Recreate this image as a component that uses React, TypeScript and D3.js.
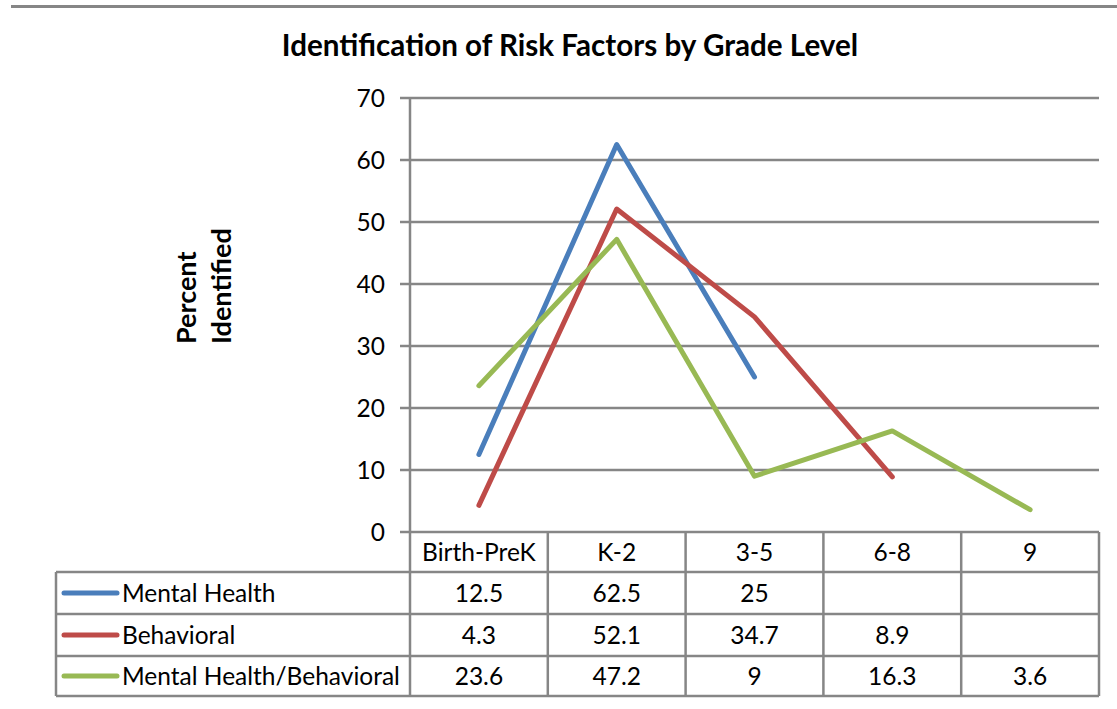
import React, { useEffect, useRef } from "react";
import * as d3 from "d3";

const grades = ["Birth-PreK", "K-2", "3-5", "6-8", "9"];
const seriesNames = ["Mental Health", "Behavioral", "Mental Health/Behavioral"];
const mentalHealth = [12.5, 62.5, 25, null, null];
const behavioral = [4.3, 52.1, 34.7, 8.9, null];
const mentalBehavioral = [23.6, 47.2, 9, 16.3, 3.6];
const seriesColors = ["#4A7EBB", "#BE4B48", "#98B954"];
const yTicks = [0, 10, 20, 30, 40, 50, 60, 70];

const W = 1117;
const H = 709;

export default function App() {
  const ref = useRef<SVGSVGElement>(null);

  useEffect(() => {
    const svg = d3.select(ref.current);
    svg.selectAll("*").remove();

    const font = "Lato, 'Open Sans', sans-serif";
    const fs = 24.5;
    const grid = "#868686";
    const left = 410;
    const right = 1099;
    const top = 98;
    const bottom = 532;
    const rowEdges = [532, 572, 614, 656, 696];
    const tableLeft = 56;

    const x = d3.scaleBand<string>().domain(grades).range([left, right]);
    const y = d3.scaleLinear().domain([0, 70]).range([bottom, top]);

    // top rule
    svg.append("line")
      .attr("x1", 11).attr("x2", W).attr("y1", 6.5).attr("y2", 6.5)
      .attr("stroke", grid).attr("stroke-width", 3);

    svg.append("text")
      .attr("x", 570).attr("y", 56)
      .attr("text-anchor", "middle")
      .attr("font-family", font).attr("font-weight", "bold").attr("font-size", 29.6)
      .text("Identification of Risk Factors by Grade Level");

    // y axis title
    const yt = svg.append("text")
      .attr("transform", "translate(196,344) rotate(-90)")
      .attr("text-anchor", "start")
      .attr("font-family", font).attr("font-weight", "bold").attr("font-size", 27);
    yt.append("tspan").attr("x", 0).attr("y", 0).text("Percent");
    yt.append("tspan").attr("x", 0).attr("y", 35).text("Identified");

    // gridlines + ticks
    yTicks.forEach(t => {
      svg.append("line")
        .attr("x1", 400).attr("x2", t === 0 ? left : right)
        .attr("y1", y(t)).attr("y2", y(t))
        .attr("stroke", grid).attr("stroke-width", 2.5);
      svg.append("text")
        .attr("x", 385).attr("y", y(t) + 8.5)
        .attr("text-anchor", "end")
        .attr("font-family", font).attr("font-size", fs)
        .text(t);
    });

    // table grid
    const g = svg.append("g").attr("stroke", grid).attr("stroke-width", 2.5).attr("fill", "none");
    g.append("line").attr("x1", left).attr("x2", right).attr("y1", rowEdges[0]).attr("y2", rowEdges[0]);
    g.append("line").attr("x1", left).attr("x2", left).attr("y1", top).attr("y2", rowEdges[4]);
    rowEdges.slice(1).forEach(r => {
      g.append("line").attr("x1", tableLeft).attr("x2", right).attr("y1", r).attr("y2", r);
    });
    g.append("line").attr("x1", tableLeft).attr("x2", tableLeft).attr("y1", rowEdges[1]).attr("y2", rowEdges[4]);
    grades.forEach(c => {
      const xe = (x(c) as number) + x.bandwidth();
      g.append("line").attr("x1", xe).attr("x2", xe).attr("y1", rowEdges[0]).attr("y2", rowEdges[4]);
    });

    // header labels
    grades.forEach(c => {
      svg.append("text")
        .attr("x", (x(c) as number) + x.bandwidth() / 2)
        .attr("y", (rowEdges[0] + rowEdges[1]) / 2 + 8.5)
        .attr("text-anchor", "middle")
        .attr("font-family", font).attr("font-size", fs)
        .text(c);
    });

    const allSeries = [mentalHealth, behavioral, mentalBehavioral];

    const line = d3.line<number | null>()
      .defined(d => d != null)
      .x((d, i) => (x(grades[i]) as number) + x.bandwidth() / 2)
      .y(d => y(d as number));

    allSeries.forEach((vals, si) => {
      const cy = (rowEdges[si + 1] + rowEdges[si + 2]) / 2;
      // legend key
      svg.append("line")
        .attr("x1", 64).attr("x2", 117).attr("y1", cy).attr("y2", cy)
        .attr("stroke", seriesColors[si]).attr("stroke-width", 5).attr("stroke-linecap", "round");
      svg.append("text")
        .attr("x", 122).attr("y", cy + 8.5)
        .attr("font-family", font).attr("font-size", fs)
        .text(seriesNames[si]);
      vals.forEach((v, i) => {
        if (v == null) return;
        svg.append("text")
          .attr("x", (x(grades[i]) as number) + x.bandwidth() / 2)
          .attr("y", cy + 8.5)
          .attr("text-anchor", "middle")
          .attr("font-family", font).attr("font-size", fs)
          .text(v);
      });
      svg.append("path")
        .datum(vals)
        .attr("d", line)
        .attr("fill", "none")
        .attr("stroke", seriesColors[si])
        .attr("stroke-width", 5)
        .attr("stroke-linejoin", "round")
        .attr("stroke-linecap", "round");
    });
  }, []);

  return (
    <div style={{ position: "absolute", left: 0, top: 0 }}>
      <svg ref={ref} width={W} height={H} style={{ display: "block", background: "#fff" }} />
    </div>
  );
}
